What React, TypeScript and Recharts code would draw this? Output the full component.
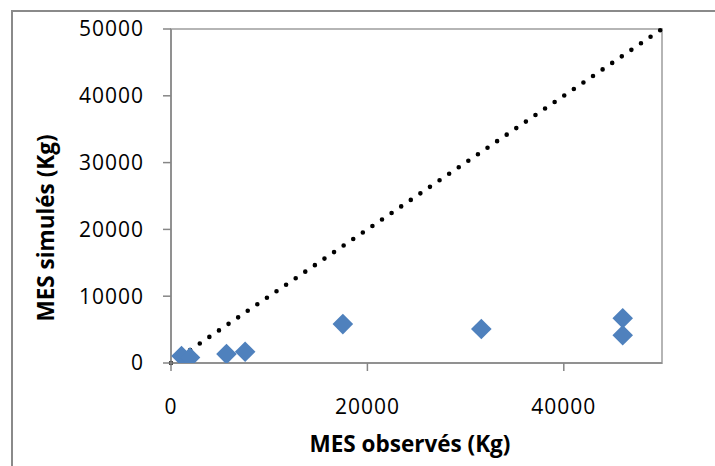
import {
  ScatterChart,
  Scatter,
  XAxis,
  YAxis,
  ReferenceLine,
  ReferenceArea,
} from 'recharts';

// MES observés (Kg) / MES simulés (Kg)
const observed = [1070, 1935, 5650, 7550, 17500, 31600, 46000, 46000];
const simulated = [1050, 820, 1330, 1690, 5820, 5100, 6700, 4150];

const xTicks = [0, 20000, 40000];
const yTicks = [0, 10000, 20000, 30000, 40000, 50000];
const axisMax = 50000;

const points = observed.map((x, i) => ({ x, y: simulated[i] }));

const FONT = "'Open Sans', sans-serif";

const Diamond = (props: any) => {
  const { cx, cy } = props;
  const r = 10.3;
  return (
    <polygon
      points={`${cx},${cy - r} ${cx + r},${cy} ${cx},${cy + r} ${cx - r},${cy}`}
      fill="#4F81BD"
    />
  );
};

const tickStyle = { fontSize: 21, fill: '#000', fontFamily: FONT, letterSpacing: 1 };

const App = () => {
  return (
    <div
      style={{
        position: 'absolute',
        left: 0,
        top: 0,
        width: 715,
        height: 466,
        overflow: 'hidden',
        background: '#fff',
      }}
    >
      <div
        style={{
          position: 'absolute',
          left: 11,
          top: 10,
          width: 800,
          height: 600,
          border: '2px solid #8a8a8a',
        }}
      />
      <div style={{ position: 'absolute', left: 0, top: 0 }}>
        <ScatterChart
          width={715}
          height={466}
          margin={{ top: 29, right: 53, bottom: 0, left: 0 }}
        >
          <ReferenceArea
            x1={0}
            x2={axisMax}
            y1={0}
            y2={axisMax}
            fill="none"
            stroke="#b5b5b5"
            strokeWidth={2}
            ifOverflow="visible"
          />
          <XAxis
            type="number"
            dataKey="x"
            domain={[0, axisMax]}
            ticks={xTicks}
            height={103}
            tickSize={8}
            tickMargin={28}
            stroke="#868686"
            strokeWidth={1.5}
            tick={tickStyle}
            allowDataOverflow
            label={{
              content: () => (
                <text
                  x={410}
                  y={443}
                  textAnchor="middle"
                  dominantBaseline="central"
                  fontFamily={FONT}
                  fontWeight="bold"
                  fontSize={22.5}
                  fill="#000"
                >
                  MES observés (Kg)
                </text>
              ),
            }}
          />
          <YAxis
            type="number"
            dataKey="y"
            domain={[0, axisMax]}
            ticks={yTicks}
            width={171}
            tickSize={8}
            tickMargin={19}
            stroke="#868686"
            strokeWidth={1.5}
            tick={tickStyle}
            allowDataOverflow
            label={{
              content: () => (
                <text
                  x={45}
                  y={228}
                  transform="rotate(-90 45 228)"
                  textAnchor="middle"
                  dominantBaseline="central"
                  fontFamily={FONT}
                  fontWeight="bold"
                  fontSize={22.5}
                  fill="#000"
                >
                  MES simulés (Kg)
                </text>
              ),
            }}
          />
          <ReferenceLine
            segment={[
              { x: 0, y: 0 },
              { x: axisMax, y: axisMax },
            ]}
            stroke="#000"
            strokeWidth={4.6}
            strokeDasharray="0 11.6"
            strokeLinecap="round"
            ifOverflow="visible"
          />
          <Scatter
            data={points}
            shape={Diamond}
            isAnimationActive={false}
          />
        </ScatterChart>
      </div>
    </div>
  );
};

export default App;
